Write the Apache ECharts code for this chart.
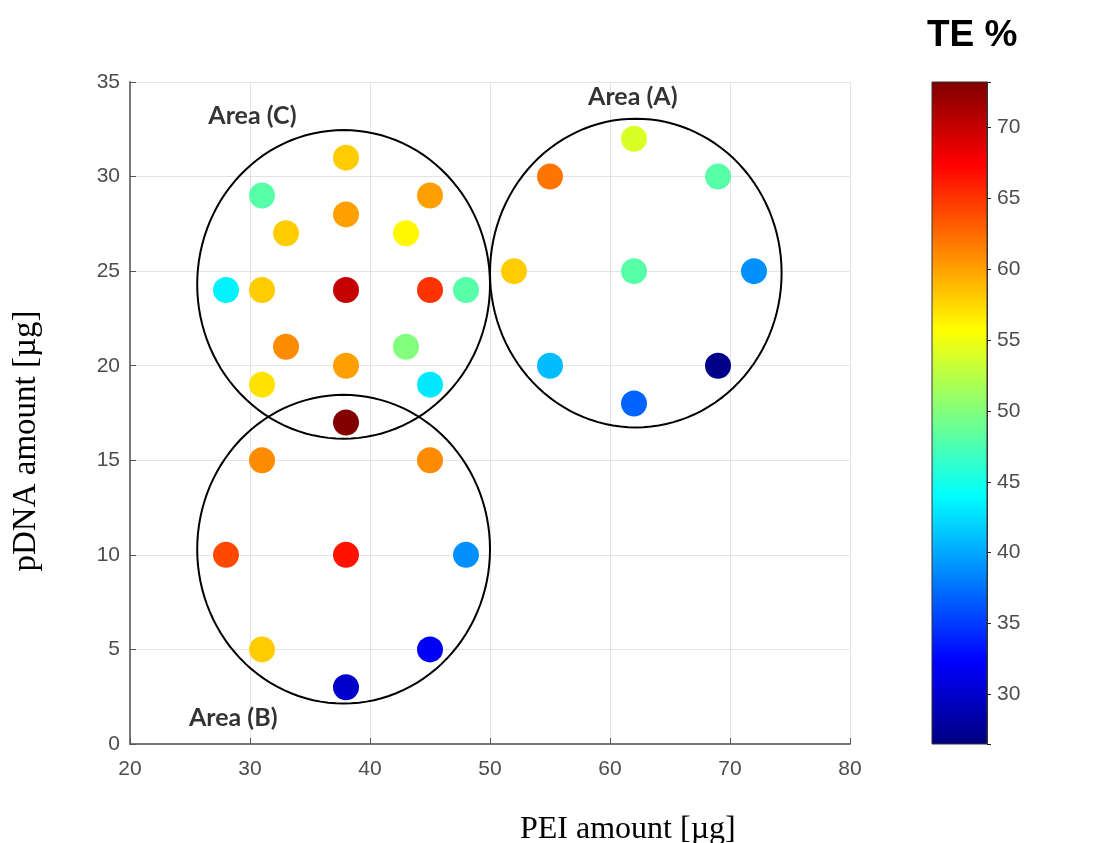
<!DOCTYPE html>
<html lang="en">
<head>
    <meta charset="UTF-8">
    <title>TE % scatter</title>
    <script src="https://cdn.jsdelivr.net/npm/echarts@6/dist/echarts.min.js"></script>
    <style>
        html, body { margin: 0; padding: 0; background: #fff; }
        #main { width: 1114px; height: 843px; }
    </style>
</head>
<body>
<div id="main"></div>
<script>
    // PEI amount (x), pDNA amount (y), transfection efficiency TE % (colour)
    var peiAmount = [38, 31, 45, 38, 33, 43, 28, 31, 38, 45, 48, 33, 43, 38, 31, 45, 38,
                     31, 45, 28, 38, 48, 31, 45, 38,
                     62, 55, 69, 52, 62, 72, 55, 69, 62];
    var pdnaAmount = [31, 29, 29, 28, 27, 27, 24, 24, 24, 24, 24, 21, 21, 20, 19, 19, 17,
                      15, 15, 10, 10, 10, 5, 5, 3,
                      32, 30, 30, 25, 25, 25, 20, 20, 18];
    var tePercent = [58, 48, 60, 60, 58, 56, 43.5, 58, 70, 65, 48, 61, 50, 60, 57, 43, 73,
                     61, 61, 64, 66.5, 39, 58, 32, 30,
                     54, 62, 48, 58, 48, 39, 41, 27, 37];

    // the three areas: [centre x, centre y, radius x, radius y] in data units
    var areaCircles = [[62.15, 24.9, 12.15, 8.16], [37.8, 10.3, 12.2, 8.16], [37.8, 24.3, 12.2, 8.16]];
    var areaLabels = [[61.9, 34.2, 'Area (A)'], [28.6, 1.4, 'Area (B)'], [30.2, 33.2, 'Area (C)']];

    var teMin = 26.5, teMax = 73.2;
    var jet = ['#00007f', '#0000ff', '#007fff', '#00ffff', '#7fff7f', '#ffff00', '#ff7f00', '#ff0000', '#7f0000'];

    var points = [];
    for (var i = 0; i < peiAmount.length; i++) {
        points.push([peiAmount[i], pdnaAmount[i], tePercent[i]]);
    }

    var tickColor = '#4d4d4d';
    var myChart = echarts.init(document.getElementById('main'));
    var option = {
        backgroundColor: '#fff',
        animation: false,
        title: {
            text: 'TE %',
            left: 922,
            top: 12,
            textStyle: { fontFamily: 'Liberation Sans', fontWeight: 'bold', fontSize: 37, color: '#000' }
        },
        graphic: [
            {
                type: 'text',
                left: 520,
                top: 814,
                style: { text: 'PEI amount [\u00b5g]', font: '32px "Liberation Serif"', fill: '#000' }
            },
            {
                type: 'text',
                x: 26,
                y: 441,
                rotation: Math.PI / 2,
                style: {
                    text: 'pDNA amount [\u00b5g]', font: '33px "Liberation Serif"', fill: '#000',
                    align: 'center', verticalAlign: 'middle'
                }
            }
        ],
        visualMap: {
            show: false,
            type: 'continuous',
            seriesIndex: 0,
            dimension: 2,
            min: teMin,
            max: teMax,
            inRange: { color: jet }
        },
        grid: [
            { left: 130, right: 264, top: 82, bottom: 99 },
            { left: 932, width: 55, top: 82, bottom: 99 }
        ],
        xAxis: [{
            gridIndex: 0,
            type: 'value',
            min: 20, max: 80, interval: 10,
            axisLine: { lineStyle: { color: '#777', width: 2 } },
            axisTick: { inside: true, length: 6, lineStyle: { color: '#555' } },
            axisLabel: { fontFamily: 'Liberation Sans', fontSize: 21, color: tickColor, margin: 15 },
            splitLine: { show: true, lineStyle: { color: '#e4e4e4', width: 1 } }
        }, {
            gridIndex: 1,
            type: 'value',
            min: 0, max: 1,
            show: false
        }],
        yAxis: [{
            gridIndex: 0,
            type: 'value',
            min: 0, max: 35, interval: 5,
            axisLine: { show: true, lineStyle: { color: '#777', width: 2 } },
            axisTick: { show: true, inside: true, length: 6, lineStyle: { color: '#555' } },
            axisLabel: { fontFamily: 'Liberation Sans', fontSize: 21, color: tickColor, margin: 10 },
            splitLine: { show: true, lineStyle: { color: '#e4e4e4', width: 1 } }
        }, {
            gridIndex: 1,
            type: 'value',
            position: 'right',
            z: 10,
            min: teMin, max: teMax,
            splitNumber: 10,
            axisLine: { show: true, onZero: false, lineStyle: { color: '#333', width: 1 } },
            axisTick: { show: true, inside: false, length: 4, lineStyle: { color: '#222' } },
            axisLabel: {
                fontFamily: 'Liberation Sans', fontSize: 21, color: tickColor, margin: 10,
                formatter: function (v) { return v % 5 === 0 ? v : ''; }
            },
            splitLine: { show: false }
        }],
        series: [
            {
                type: 'scatter',
                xAxisIndex: 0, yAxisIndex: 0,
                symbolSize: 26,
                itemStyle: { opacity: 1 },
                data: points,
                z: 3
            },
            {
                type: 'custom',
                xAxisIndex: 0, yAxisIndex: 0,
                data: areaCircles,
                clip: false,
                z: 4,
                renderItem: function (params, api) {
                    var c = api.coord([api.value(0), api.value(1)]);
                    var r = api.size([api.value(2), api.value(3)]);
                    var pts = [];
                    for (var k = 0; k < 120; k++) {
                        var a = k / 120 * Math.PI * 2;
                        pts.push([c[0] + r[0] * Math.cos(a), c[1] + r[1] * Math.sin(a)]);
                    }
                    return {
                        type: 'polygon',
                        shape: { points: pts },
                        style: { fill: 'none', stroke: '#000', lineWidth: 2 }
                    };
                }
            },
            {
                type: 'scatter',
                xAxisIndex: 0, yAxisIndex: 0,
                symbolSize: 0,
                data: areaLabels,
                z: 5,
                label: {
                    show: true,
                    position: 'inside',
                    formatter: function (p) { return p.value[2]; },
                    fontFamily: 'Lato',
                    fontWeight: 'bold',
                    fontSize: 25,
                    color: '#000'
                }
            },
            {
                // colour bar
                type: 'custom',
                xAxisIndex: 1, yAxisIndex: 1,
                data: [[teMin, teMax]],
                z: 1,
                renderItem: function (params, api) {
                    var top = api.coord([0, api.value(1)]);
                    var bottom = api.coord([1, api.value(0)]);
                    var stops = jet.map(function (c, idx) {
                        return { offset: 1 - idx / (jet.length - 1), color: c };
                    });
                    stops.reverse();
                    return {
                        type: 'rect',
                        shape: { x: top[0], y: top[1], width: bottom[0] - top[0], height: bottom[1] - top[1] },
                        style: {
                            fill: new echarts.graphic.LinearGradient(0, 0, 0, 1, stops),
                            stroke: '#333',
                            lineWidth: 1
                        }
                    };
                }
            }
        ]
    };
    myChart.setOption(option);
</script>
</body>
</html>
